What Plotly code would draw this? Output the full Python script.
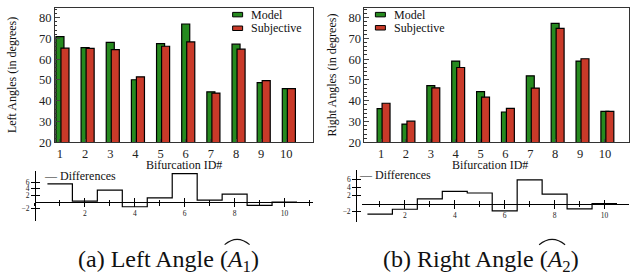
import numpy as np
import plotly.graph_objects as go

# ---------------- data ----------------
ids = [1, 2, 3, 4, 5, 6, 7, 8, 9, 10]
left_model = [70.8, 65.5, 68.1, 50.1, 67.5, 76.9, 44.3, 67.2, 48.7, 45.8]
left_subjective = [65.3, 65.2, 64.6, 51.5, 66.2, 68.3, 43.7, 64.8, 49.7, 45.8]
right_model = [36.2, 28.8, 47.3, 59.1, 44.4, 34.6, 52.0, 77.2, 59.1, 34.9]
right_subjective = [38.8, 30.2, 46.2, 56.0, 41.7, 36.3, 46.1, 74.8, 60.2, 34.9]
left_diff = [5.5, 0.3, 3.6, -1.4, 1.3, 8.6, 0.6, 2.4, -1.0, 0.0]
right_diff = [-2.6, -1.4, 1.2, 3.1, 2.7, -1.8, 6.0, 2.4, -1.3, 0.0]
diff_ticks = [-2, 2, 4, 6]
diff_xticks = [2, 4, 6, 8, 10]
series_names = ["Model", "Subjective"]

GREEN = "#268a1f"
RED = "#c93a29"
FONT = "Liberation Serif, Times New Roman, serif"
W, H = 630, 279


def px(x):
    return x / W


def py(y):
    return 1 - y / H


fig = go.Figure()

# bar charts
for model, subj, xa, ya in [
    (left_model, left_subjective, "x", "y"),
    (right_model, right_subjective, "x2", "y2"),
]:
    fig.add_trace(go.Bar(x=ids, y=model, name=series_names[0], xaxis=xa, yaxis=ya,
                         width=0.32, offset=-0.16, showlegend=False,
                         marker=dict(color=GREEN, line=dict(color="black", width=1.2))))
    fig.add_trace(go.Bar(x=ids, y=subj, name=series_names[1], xaxis=xa, yaxis=ya,
                         width=0.32, offset=0.04, showlegend=False,
                         marker=dict(color=RED, line=dict(color="black", width=1.2))))

# difference step plots
edges = list(np.array(ids, dtype=float) - 0.5) + [ids[-1] + 0.5]
for d, xa, ya, xo, yo in [(left_diff, "x3", "y3", "x5", "y5"),
                          (right_diff, "x4", "y4", "x6", "y6")]:
    fig.add_trace(go.Scatter(x=edges, y=list(d) + [d[-1]], mode="lines", name="Differences",
                             line=dict(color="black", width=1.2, shape="hv"),
                             xaxis=xa, yaxis=ya, showlegend=False, hoverinfo="skip"))
    fig.add_trace(go.Scatter(x=[5], y=[0], mode="markers", marker=dict(opacity=0),
                             xaxis=xo, yaxis=yo, showlegend=False, hoverinfo="skip"))

bar_x = dict(tickvals=ids, ticks="inside", ticklen=3, showline=True, mirror=True,
             linecolor="#333", linewidth=1, tickfont=dict(family=FONT, size=12.5, color="#222"),
             showgrid=False, zeroline=False)
bar_y = dict(range=[20, 84.7], dtick=10, ticks="inside", ticklen=5, showline=True,
             mirror=True, linecolor="#333", linewidth=1,
             minor=dict(dtick=2, ticks="inside", ticklen=2.5, tickcolor="#333"),
             tickfont=dict(family=FONT, size=12.5, color="#222"), showgrid=False, zeroline=False)

ydom = [py(146), py(8)]
fig.update_layout(
    xaxis=dict(domain=[px(55), px(313)], range=[0.8, 11.04], anchor="y", **bar_x),
    yaxis=dict(domain=ydom, anchor="x", **bar_y),
    xaxis2=dict(domain=[px(365), 1.0], range=[0.33, 10.97], anchor="y2", **bar_x),
    yaxis2=dict(domain=ydom, anchor="x2", **bar_y),
)

dfont = dict(family=FONT, size=7.5, color="#222")
for (xn, yn, xo, yo, xdom, xr, ydomd, yr, yaxpos) in [
    ("xaxis3", "yaxis3", "xaxis5", "yaxis5", [px(35), px(313)], [0.0, 11.12],
     [py(226.7), py(175)], [-5.7, 9.5], px(35)),
    ("xaxis4", "yaxis4", "xaxis6", "yaxis6", [px(363), 1.0], [0.3, 10.98],
     [py(227.7), py(174.3)], [-4.6, 8.5], px(356.7)),
]:
    zero_pos = ydomd[0] + (0 - yr[0]) / (yr[1] - yr[0]) * (ydomd[1] - ydomd[0])
    base_x = dict(range=xr, showgrid=False, zeroline=False, tickvals=diff_xticks,
                  tickcolor="black", ticklen=4)
    base_y = dict(range=yr, showgrid=False, zeroline=False, tickvals=diff_ticks,
                  tickcolor="black", ticklen=4)
    xs = xn.replace("axis", "")
    ys = yn.replace("axis", "")
    fig.layout[xn] = dict(domain=xdom, anchor="free", position=zero_pos, showline=True,
                          linecolor="black", linewidth=1, ticks="outside", tickfont=dfont,
                          minor=dict(dtick=1, ticklen=2.5, tickcolor="black", ticks="outside"),
                          **base_x)
    fig.layout[yn] = dict(domain=ydomd, anchor="free", position=yaxpos, showline=True,
                          linecolor="black", linewidth=1, ticks="outside", tickfont=dfont,
                          **base_y)
    fig.layout[xo] = dict(overlaying=xs, anchor="free", position=zero_pos, ticks="inside",
                          showticklabels=False, showline=False,
                          minor=dict(dtick=1, ticklen=2.5, tickcolor="black", ticks="inside"),
                          **base_x)
    fig.layout[yo] = dict(overlaying=ys, anchor="free", position=yaxpos, ticks="inside",
                          showticklabels=False, showline=False, **base_y)

# legend swatches (drawn as shapes) + texts
shapes = []
ann = []
tf = dict(family=FONT, size=12, color="#111")
for sx, tx, ys_ in [(233, 249, (15, 29)), (376, 392.5, (15, 28.5))]:
    for name, col, yc in [(series_names[0], GREEN, ys_[0]), (series_names[1], RED, ys_[1])]:
        shapes.append(dict(type="rect", xref="paper", yref="paper",
                           x0=px(sx), x1=px(sx + 10), y0=py(yc + 2.3), y1=py(yc - 2.3),
                           fillcolor=col, line=dict(color="black", width=1)))
        ann.append(dict(text=name, x=px(tx), y=py(yc), xanchor="left", font=tf))

ann.append(dict(text="Bifurcation ID#", x=(px(55) + px(313)) / 2, y=py(169.5), font=tf))
ann.append(dict(text="Bifurcation ID#", x=(px(365) + 1) / 2 - 0.01, y=py(169.5), font=tf))
ann.append(dict(text="Left Angles (in degrees)", x=px(12), y=(ydom[0] + ydom[1]) / 2,
                textangle=-90, font=tf))
ann.append(dict(text="Right Angles (in degrees)", x=px(333), y=(ydom[0] + ydom[1]) / 2,
                textangle=-90, font=tf))
ann.append(dict(text="— Differences", x=px(42), y=py(181), xanchor="left", font=tf))
ann.append(dict(text="— Differences", x=px(358), y=py(180), xanchor="left", font=tf))
cf = dict(family=FONT, size=24, color="#111")
ann.append(dict(text="(a) Left Angle (<i>A</i><sub>1</sub>)", x=px(169), y=py(268), font=cf))
ann.append(dict(text="(b) Right Angle (<i>A</i><sub>2</sub>)", x=px(482), y=py(268), font=cf))
for a in ann:
    a.update(xref="paper", yref="paper", showarrow=False)
    a.setdefault("xanchor", "center")
    a.setdefault("yanchor", "middle")

# wide hats over A1 / A2
for x0, x1 in [(225, 250), (540, 566)]:
    shapes.append(dict(type="path", xref="paper", yref="paper",
                       path=f"M {px(x0)},{py(251)} Q {px((x0 + x1) / 2)},{py(240)} {px(x1)},{py(251)}",
                       line=dict(color="#111", width=1.1)))

fig.update_layout(
    width=W, height=H, margin=dict(l=0, r=0, t=0, b=0),
    paper_bgcolor="white", plot_bgcolor="white",
    barmode="overlay", annotations=ann, shapes=shapes, showlegend=False,
)

fig.write_html("out.html", config={"displayModeBar": False},
               post_script="document.body.style.margin='0';")
